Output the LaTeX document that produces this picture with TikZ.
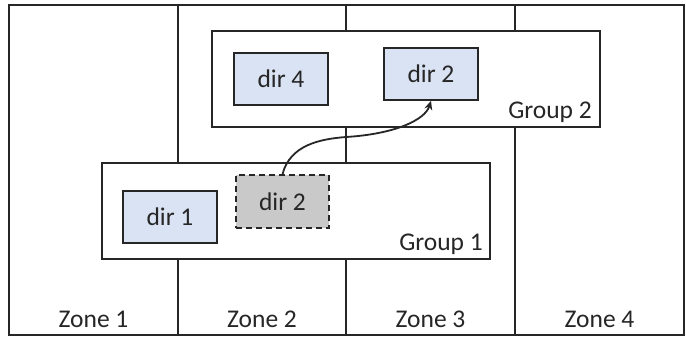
\documentclass[tikz,border=0pt]{standalone}
\usepackage{fontspec}
\setmainfont{Carlito}
\usetikzlibrary{arrows.meta}
\definecolor{dirblue}{HTML}{DAE3F3}
\definecolor{dirgray}{HTML}{C9C9C9}
\definecolor{ink}{HTML}{262626}
\begin{document}
\begin{tikzpicture}[x=1pt,y=-1pt,
  zoneline/.style={draw=ink,line width=1.3pt},
  groupbox/.style={draw=ink,line width=1.8pt,fill=white},
  dirbox/.style={draw=ink,line width=1.6pt,fill=dirblue},
  movedbox/.style={draw=ink,line width=1.6pt,fill=dirgray,dash pattern=on 6pt off 4pt},
  lbl/.style={font=\fontsize{25.5}{28}\selectfont,text=ink,inner sep=0pt}]
\useasboundingbox (0,0) rectangle (686,338);
% zones
\draw[zoneline] (9,5) rectangle (684,335);
\draw[zoneline] (178,5) -- (178,335);
\draw[zoneline] (346,5) -- (346,335);
\draw[zoneline] (515,5) -- (515,335);
\node[lbl] (z1) at (93.5,319) {Zone 1};
\node[lbl] (z2) at (262,319) {Zone 2};
\node[lbl] (z3) at (430.5,319) {Zone 3};
\node[lbl] (z4) at (599.5,319) {Zone 4};
% group 2
\draw[groupbox] (212,31) rectangle (600,127);
\node[lbl,anchor=base east] (g2) at (592,118) {Group 2};
\node[dirbox,minimum width=94pt,minimum height=52pt,lbl] (d4) at (281,79) {dir 4};
\node[dirbox,minimum width=94pt,minimum height=52pt,lbl] (d2) at (431,74) {dir 2};
% group 1
\draw[groupbox] (102,163) rectangle (490,259);
\node[lbl,anchor=base east] (g1) at (483,250) {Group 1};
\node[dirbox,minimum width=94pt,minimum height=52pt,lbl] (d1) at (170,217) {dir 1};
\node[movedbox,minimum width=93pt,minimum height=53pt,lbl] (d2old) at (282.5,201.5) {dir 2};
% arrow
\draw[line width=1.8pt,ink,-{Stealth[length=9pt,width=8pt]}]
  (d2old.north) .. controls (290,145) and (320,139) .. (346,137)
  .. controls (395,134) and (425,120) .. (d2.south);
\end{tikzpicture}
\end{document}
